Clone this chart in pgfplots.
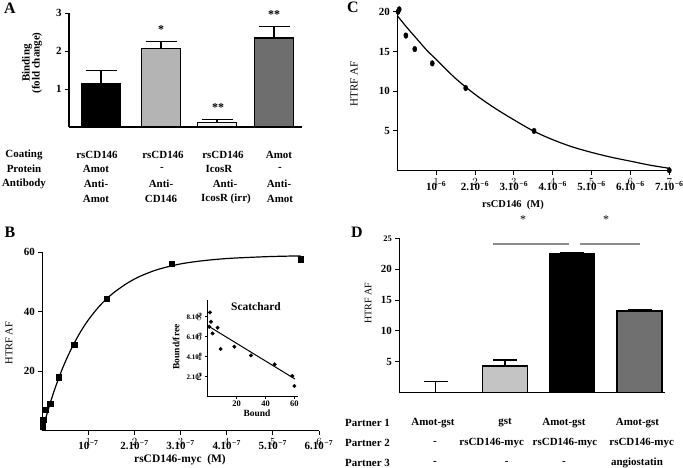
\documentclass[border=0pt]{standalone}
\usepackage{pgfplots}
\pgfplotsset{compat=1.18}
\usepackage{fontspec}
\setmainfont{Liberation Serif}
\newcommand\fs[1]{\fontsize{#1}{#1}\selectfont}
\newcommand\spx[1]{\kern0.5pt\textsuperscript{#1}}
\definecolor{gLight}{HTML}{B4B4B4}
\definecolor{gWhite}{HTML}{EFEFEF}
\definecolor{gDark}{HTML}{6E6E6E}
\definecolor{gLightD}{HTML}{C4C4C4}
\definecolor{gDarkD}{HTML}{707070}
\definecolor{sigline}{HTML}{8C8C8C}
\pgfplotsset{
  base/.style={scale only axis, anchor=south west, clip=false,
    axis x line*=bottom, axis y line*=left,
    x axis line style={-}, y axis line style={-},
    axis line style={line width=1.1bp, black},
    tick align=outside, major tick length=4bp,
    tick style={line width=1bp, black},
    ticklabel style={font=\fs{11}\bfseries},
  },
  abar/.style={ybar, bar shift=0pt, draw=black, line width=1.5bp,
    error bars/y dir=plus, error bars/y explicit,
    error bars/error bar style={line width=1.4bp, draw=black, solid},
    error bars/error mark options={rotate=90, mark size=15.5bp, line width=1.4bp, draw=black}},
  dbar/.style={ybar, bar shift=0pt, draw=black, line width=1.5bp,
    error bars/y dir=plus, error bars/y explicit,
    error bars/error bar style={line width=1.4bp, draw=black, solid},
    error bars/error mark options={rotate=90, mark size=12bp, line width=1.4bp, draw=black}},
}
\begin{document}
\begin{tikzpicture}
\path[use as bounding box] (0bp,0bp) rectangle (683bp,-468bp);

% ---------------- Panel A ----------------
\begin{axis}[base, at={(69bp,-127bp)}, width=233bp, height=114bp,
  xmin=69, xmax=302, ymin=0, ymax=3,
  xtick=\empty, ytick={1,2,3}, yticklabels={1,2,3}]
\addplot[abar, fill=black, bar width=39] coordinates {(101,1.13) +- (0,0.36)};
\addplot[abar, fill=gLight, bar width=39] coordinates {(161,2.07) +- (0,0.18)};
\addplot[abar, fill=gWhite, bar width=39] coordinates {(217,0.12) +- (0,0.08)};
\addplot[abar, fill=gDark, bar width=39] coordinates {(274,2.34) +- (0,0.30)};
\end{axis}

% ---------------- Panel B ----------------
\begin{axis}[base, at={(42.3bp,-430.7bp)}, width=276.7bp, height=178.4bp,
  xmin=0, xmax=6, ymin=0, ymax=60,
  xtick={1,2,3,4,5,6}, xticklabel={},
  ytick={20,40,60}, yticklabels={20,40,60}]
\addplot[black, line width=1.2bp, smooth, no marks] coordinates {
(0,0) (0.1,5.6) (0.2,10.7) (0.3,15.3) (0.45,21.4) (0.6,26.6) (0.8,32.5) (1.0,37.3)
(1.25,42.1) (1.5,45.8) (1.8,49.2) (2.1,51.8) (2.5,54.2) (3.0,56.1) (3.5,57.2)
(4.0,57.9) (4.5,58.3) (5.0,58.6) (5.6,58.8)};
\addplot[only marks, mark=square*, mark size=2.6bp, black] coordinates {
(0.0,1.5) (0.02,3.6) (0.08,7) (0.17,9) (0.35,18) (0.69,28.8) (1.40,44.5) (2.80,56.3) (5.61,57.7)};
\end{axis}

% inset
\begin{axis}[base, at={(207.8bp,-396.7bp)}, width=89.9bp, height=97bp,
  xmin=0, xmax=62.3, ymin=0, ymax=9.7,
  axis line style={line width=0.8bp},
  major tick length=2.5bp, tick style={line width=0.7bp},
  xtick={20,40,60}, xticklabels={20,40,60},
  ytick={2,4,6,8}, yticklabel={},
  x tick label style={font=\fs{8.5}\bfseries, inner sep=1.5pt}]
\addplot[black, line width=1bp, no marks] coordinates {(0.3,7.07) (60.4,1.77)};
\addplot[only marks, mark=*, mark size=1.8bp, black] coordinates {
(1.5,8.43) (2.2,7.5) (1.0,7.0) (3.3,6.33) (6.8,6.9) (8.9,4.77) (18.4,5.0) (29.9,4.13) (46.3,3.23) (58.5,2.07) (60,1.07)};
\end{axis}

% ---------------- Panel C ----------------
\begin{axis}[base, at={(397.3bp,-170.7bp)}, width=272bp, height=159bp,
  xmin=0, xmax=7, ymin=0, ymax=20,
  xtick={1,2,3,4,5,6,7}, xticklabel={},
  ytick={5,10,15,20}, yticklabels={5,10,15,20}]
\addplot[black, line width=1.2bp, smooth, no marks] coordinates {
(0,19.5) (0.25,18.0) (0.5,16.6) (0.75,15.2) (1.0,14.0) (1.5,11.6) (2.0,9.6) (2.5,7.9)
(3.0,6.4) (3.5,5.0) (4.0,3.9) (4.5,3.0) (5.0,2.3) (5.5,1.7) (6.0,1.2) (6.5,0.7) (7.0,0.3)};
\addplot[only marks, mark=*, mark size=2.1bp, mark options={yscale=1.35}, black] coordinates {
(0.02,20.0) (0.05,20.3) (0.22,17.0) (0.45,15.3) (0.9,13.5) (1.76,10.4) (3.52,5.0) (7.0,0.05)};
\end{axis}

% ---------------- Panel D ----------------
\begin{axis}[base, at={(399.3bp,-392.7bp)}, width=265.7bp, height=154.4bp,
  xmin=399.3, xmax=665, ymin=0, ymax=25,
  xtick=\empty, ytick={5,10,15,20,25},
  yticklabels={5,10,15,20,{\fs{8.5}\bfseries 25}}]
\addplot[dbar, fill=none, draw=none, bar width=45] coordinates {(435.7,0) +- (0,1.78)};
\addplot[dbar, fill=gLightD, bar width=45] coordinates {(505,4.32) +- (0,0.97)};
\addplot[dbar, fill=black, bar width=45] coordinates {(572,22.44) +- (0,0.15)};
\addplot[dbar, fill=gDarkD, bar width=45] coordinates {(639.5,13.22) +- (0,0.2)};
\end{axis}

\begin{scope}[x=1bp,y=-1bp]
% A texts
\node[font=\fs{16}\bfseries] at (10,8) {A};
\node[font=\fs{12}\bfseries] at (161,30) {*};
\node[font=\fs{12}\bfseries] at (218,108) {**};
\node[font=\fs{12}\bfseries] at (274,15) {**};
\node[rotate=90, font=\fs{11}\bfseries, align=center] at (32,63) {Binding\\[-1pt](fold change)};
\begin{scope}[every node/.style={font=\fs{11}\bfseries, inner sep=0pt}]
\node at (24,155) {Coating};
\node at (24,169) {Protein};
\node at (24,184) {Antibody};
\node at (97,155) {rsCD146};
\node at (96,169) {Amot};
\node at (96,184) {Anti-};
\node at (96,199) {Amot};
\node at (163,155) {rsCD146};
\node at (162,169) {-};
\node at (161,184) {Anti-};
\node at (161,199) {CD146};
\node at (223,155) {rsCD146};
\node at (219,169) {IcosR};
\node at (225,184) {Anti-};
\node at (226,199) {IcosR (irr)};
\node at (279,155) {Amot};
\node at (280,169) {-};
\node at (279,184) {Anti-};
\node at (280,199) {Amot};
\end{scope}
% B texts
\node[font=\fs{16}\bfseries] at (10,232) {B};
\node[rotate=90, font=\fs{10.5}] at (9,343) {HTRF AF};
\node[font=\fs{11.5}\bfseries] at (180,460) {rsCD146-myc\ \ (M)};
\begin{scope}[every node/.style={font=\fs{11}\bfseries, inner sep=0pt}]
\node at (88.4,445) {10\spx{−7}};
\node at (134.5,445) {2.10\spx{−7}};
\node at (180.6,445) {3.10\spx{−7}};
\node at (226.7,445) {4.10\spx{−7}};
\node at (272.8,445) {5.10\spx{−7}};
\node at (318.9,445) {6.10\spx{−7}};
\end{scope}
\node[font=\fs{11.5}\bfseries] at (256,307) {Scatchard};
\node[font=\fs{9.5}\bfseries] at (257,413) {Bound};
\node[rotate=90, font=\fs{9.5}\bfseries] at (176,347) {Bound/free};
\begin{scope}[every node/.style={font=\fs{7}\bfseries, inner sep=0pt, anchor=east}]
\node at (202.5,376.7) {2.10\spx{8}};
\node at (202.5,356.7) {4.10\spx{8}};
\node at (202.5,336.7) {6.10\spx{8}};
\node at (202.5,316.7) {8.10\spx{8}};
\end{scope}
% C texts
\node[font=\fs{16}\bfseries] at (353,7) {C};
\node[rotate=90, font=\fs{11}] at (354,84) {HTRF AF};
\node[font=\fs{10.5}\bfseries] at (513,205) {rsCD146\ \ (M)};
\begin{scope}[every node/.style={font=\fs{11}\bfseries, inner sep=0pt}]
\node at (436.2,186) {10\spx{−6}};
\node at (475.0,186) {2.10\spx{−6}};
\node at (513.9,186) {3.10\spx{−6}};
\node at (552.7,186) {4.10\spx{−6}};
\node at (591.6,186) {5.10\spx{−6}};
\node at (630.4,186) {6.10\spx{−6}};
\node at (669.3,186) {7.10\spx{−6}};
\end{scope}
% D texts
\node[font=\fs{16}\bfseries] at (357,232) {D};
\draw[sigline, line width=1.2bp] (493,244) -- (569,244);
\draw[sigline, line width=1.2bp] (580,244) -- (640,244);
\node[font=\fs{12}] at (523,220) {*};
\node[font=\fs{12}] at (606,220) {*};
\node[rotate=90, font=\fs{10}] at (368,303) {HTRF AF};
\begin{scope}[every node/.style={font=\fs{11}\bfseries, inner sep=0pt}]
\node[anchor=west] at (345,422.7) {Partner 1};
\node[anchor=west] at (345,443.3) {Partner 2};
\node[anchor=west] at (345,462.7) {Partner 3};
\node at (433,422.7) {Amot-gst};
\node at (505,422.7) {gst};
\node at (564,422.7) {Amot-gst};
\node at (637.5,422.7) {Amot-gst};
\node at (435,443.3) {-};
\node at (491.7,443.3) {rsCD146-myc};
\node at (565,443.3) {rsCD146-myc};
\node at (641.7,443.3) {rsCD146-myc};
\node at (435,462.7) {-};
\node at (506.7,462.7) {-};
\node at (564,462.7) {-};
\node at (637,462.7) {angiostatin};
\end{scope}
\end{scope}
\end{tikzpicture}
\end{document}
